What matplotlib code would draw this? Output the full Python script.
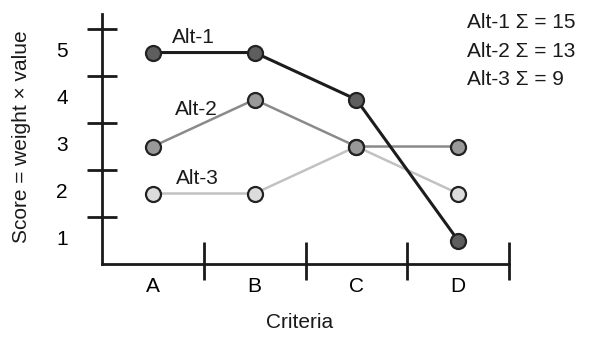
import matplotlib
matplotlib.use("Agg")
import matplotlib.pyplot as plt
import matplotlib.transforms as mtransforms
import numpy as np

plt.rcParams["font.family"] = ["Liberation Sans", "DejaVu Sans"]
plt.rcParams["font.size"] = 15
plt.rcParams["text.color"] = "#1a1a1a"

# Data
criteria = ["A", "B", "C", "D"]
alternatives = ["Alt-1", "Alt-2", "Alt-3"]
alt1 = [5, 5, 4, 1]
alt2 = [3, 4, 3, 3]
alt3 = [2, 2, 3, 2]
y_ticks = [1, 2, 3, 4, 5]

# Style
line_colors = ["#1c1c1c", "#8a8a8a", "#c2c2c2"]
fill_colors = ["#5e5e5e", "#999999", "#dcdcdc"]
line_widths = [2.2, 1.8, 1.8]
EDGE = "#222222"

fig = plt.figure(figsize=(5.93, 3.42), dpi=100)
ax = fig.add_axes([102 / 593, 1 - 264 / 342, (509 - 102) / 593, (264 - 14) / 342])

x = np.arange(len(criteria))
series = [alt1, alt2, alt3]
# draw lightest first so the dark line sits on top
for i in [2, 1, 0]:
    ax.plot(x, series[i], color=line_colors[i], lw=line_widths[i], zorder=2 + (2 - i),
            solid_capstyle="round")
for i in [2, 1, 0]:
    ax.plot(x, series[i], ls="none", marker="o", ms=10.8, mfc=fill_colors[i],
            mec=EDGE, mew=1.6, zorder=6 + (2 - i), clip_on=False)

# series labels
label_pos = [(0.19, 5.2), (0.22, 3.67), (0.23, 2.2)]
for name, (lx, ly) in zip(alternatives, label_pos):
    ax.text(lx, ly, name, ha="left", va="baseline")

ax.set_xlim(-0.5, 3.5)
ax.set_ylim(0.5, 5.82)

for s in ["top", "right"]:
    ax.spines[s].set_visible(False)
for s in ["left", "bottom"]:
    ax.spines[s].set_linewidth(2.0)
    ax.spines[s].set_color("#1a1a1a")

# y axis: numbers at values, crossing marks in between
ax.set_yticks(y_ticks, [str(v) for v in y_ticks], va="baseline")
ax.set_yticks(np.array(y_ticks) + 0.5, minor=True)
ax.tick_params(axis="y", which="major", length=0, pad=24.5)
ax.tick_params(axis="y", which="minor", direction="inout", length=22.3, width=2.0,
               color="#1a1a1a")
shift = mtransforms.ScaledTranslation(0, -0.045, fig.dpi_scale_trans)
for lbl in ax.get_yticklabels():
    lbl.set_transform(lbl.get_transform() + shift)

# x axis: category names centred in each band, marks at band edges
ax.set_xticks(x, criteria)
ax.tick_params(axis="x", which="major", length=0, pad=9.5)
ax.vlines(x + 0.5, 0.16, 0.968, color="#1a1a1a", lw=2.0, clip_on=False, zorder=3)

fig.text(22 / 593, 1 - 136.5 / 342, "Score = weight \u00d7 value", rotation=90,
         ha="center", va="center")
fig.text(300 / 593, 1 - 328 / 342, "Criteria", ha="center", va="baseline")

totals = [sum(alt1), sum(alt2), sum(alt3)]
for k, (name, tot) in enumerate(zip(alternatives, totals)):
    fig.text(467 / 593, 1 - (28.3 + 28.4 * k) / 342, f"{name} \u03a3 = {tot}",
             ha="left", va="baseline")

fig.savefig("out.png", dpi=100)
plt.close(fig)
